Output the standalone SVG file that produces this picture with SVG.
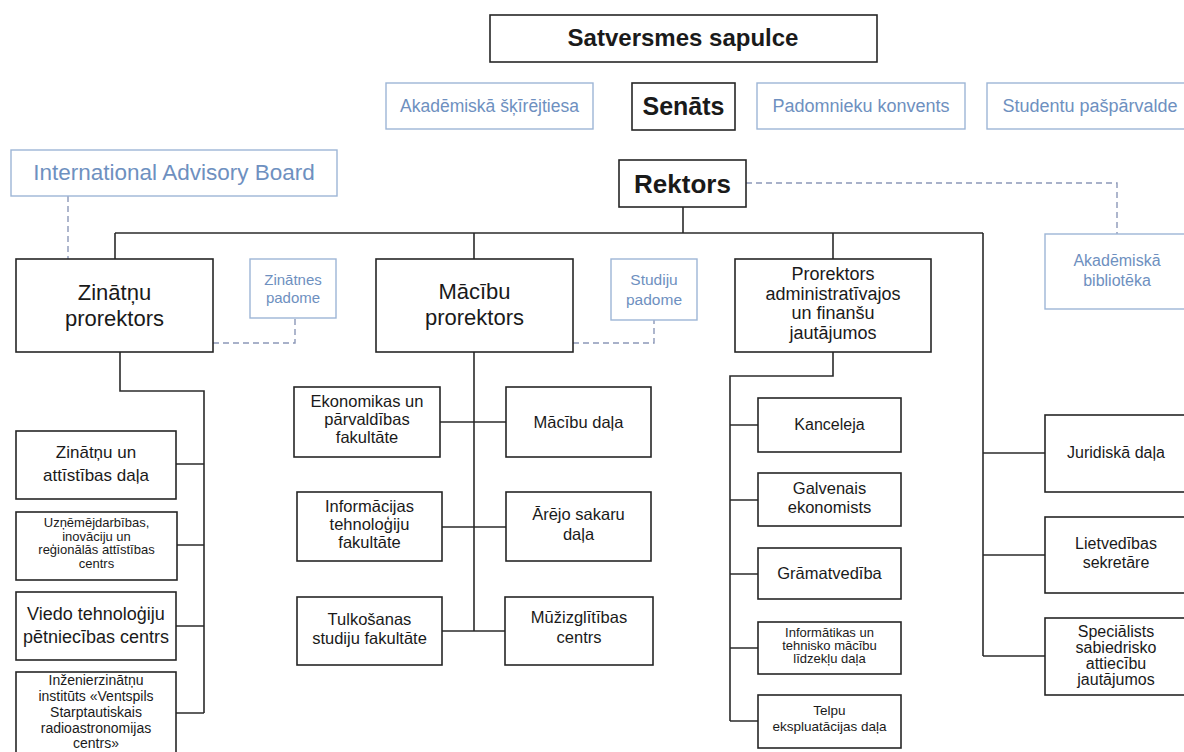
<svg xmlns="http://www.w3.org/2000/svg" width="1184" height="752" viewBox="0 0 1184 752">
<style>
.bx{fill:#fff;stroke:#262626;stroke-width:1.6}
.bb{fill:#fff;stroke:#9db6d6;stroke-width:1.4}
text{font-family:"Liberation Sans",Arial,sans-serif;fill:#1a1a1a;text-anchor:middle}
text.b{fill:#6e90c0}
text.h{font-weight:bold}
.ln{fill:none;stroke:#2b2b2b;stroke-width:1.6}
.ds{fill:none;stroke:#8c98b8;stroke-width:1.4;stroke-dasharray:6 4}
</style>
<rect width="1184" height="752" fill="#fff"/>
<g id="connectors">
<path class="ln" d="M683 207V233M115 233H983M115 233V259M474 233V259M833 233V259M983 233V656"/>
<path class="ln" d="M120 352V391H204V713M176 464H204M177 545H204M176 626H204M176 713H204"/>
<path class="ln" d="M474 352V631M440 422H506M442 527H506M442 631H505"/>
<path class="ln" d="M833 352V376H730V721M730 425H758M730 500H758M730 574H758M730 648H758M730 721H758"/>
<path class="ln" d="M983 453H1045M983 555H1045M983 656H1045"/>
<path class="ds" d="M68 196V259M746 183H1117V234M213 343H295V318M573 343H654V320"/>
</g>
<g id="satversmes"><rect class="bx" x="490" y="15" width="387" height="47"/><text class="h" x="683" y="46" font-size="24">Satversmes sapulce</text></g>
<g id="skirejtiesa"><rect class="bb" x="386" y="83" width="207" height="46"/><text class="b" x="489.5" y="112" font-size="17.5">Akadēmiskā šķīrējtiesa</text></g>
<g id="senats"><rect class="bx" x="632" y="83" width="103" height="47"/><text class="h" x="683.5" y="115" font-size="25">Senāts</text></g>
<g id="padomnieku"><rect class="bb" x="757" y="83" width="208" height="46"/><text class="b" x="861" y="112" font-size="18">Padomnieku konvents</text></g>
<g id="studentu"><rect class="bb" x="987" y="83" width="210" height="46"/><text class="b" x="1090" y="112" font-size="18">Studentu pašpārvalde</text></g>
<g id="iab"><rect class="bb" x="11" y="150" width="326" height="46"/><text class="b" x="174" y="180" font-size="22.5">International Advisory Board</text></g>
<g id="rektors"><rect class="bx" x="619" y="160" width="127" height="47"/><text class="h" x="682.5" y="193" font-size="26">Rektors</text></g>
<g id="biblioteka"><rect class="bb" x="1045" y="234" width="150" height="75"/><text class="b" x="1117" y="266" font-size="16">Akadēmiskā</text><text class="b" x="1117" y="286" font-size="16">bibliotēka</text></g>
<g id="zinatnu-prorektors"><rect class="bx" x="16" y="259" width="197" height="93"/><text x="114.5" y="300" font-size="22">Zinātņu</text><text x="114.5" y="326" font-size="22">prorektors</text></g>
<g id="zinatnes-padome"><rect class="bb" x="250" y="259" width="86" height="59"/><text class="b" x="293" y="285" font-size="15">Zinātnes</text><text class="b" x="293" y="303" font-size="15">padome</text></g>
<g id="macibu-prorektors"><rect class="bx" x="376" y="259" width="197" height="93"/><text x="474.5" y="299" font-size="22">Mācību</text><text x="474.5" y="325" font-size="22">prorektors</text></g>
<g id="studiju-padome"><rect class="bb" x="611" y="259" width="86" height="61"/><text class="b" x="654" y="285" font-size="15.5">Studiju</text><text class="b" x="654" y="305" font-size="15.5">padome</text></g>
<g id="prorektors-adm"><rect class="bx" x="735" y="259" width="196" height="93"/><text x="833" y="280" font-size="18">Prorektors</text><text x="833" y="299.5" font-size="18">administratīvajos</text><text x="833" y="319" font-size="18">un finanšu</text><text x="833" y="338.5" font-size="18">jautājumos</text></g>
<g id="zinatnu-attistibas"><rect class="bx" x="16" y="431" width="160" height="68"/><text x="96" y="458" font-size="17">Zinātņu un</text><text x="96" y="481" font-size="17">attīstības daļa</text></g>
<g id="uznemejdarbibas"><rect class="bx" x="16" y="512" width="161" height="68"/><text x="96.5" y="527" font-size="13">Uzņēmējdarbības,</text><text x="96.5" y="540.5" font-size="13">inovāciju un</text><text x="96.5" y="554" font-size="13">reģionālās attīstības</text><text x="96.5" y="567.5" font-size="13">centrs</text></g>
<g id="viedo"><rect class="bx" x="16" y="592" width="160" height="68"/><text x="96" y="620" font-size="18">Viedo tehnoloģiju</text><text x="96" y="643" font-size="18">pētniecības centrs</text></g>
<g id="virac"><rect class="bx" x="16" y="672" width="160" height="90"/><text x="96" y="685" font-size="14">Inženierzinātņu</text><text x="96" y="701" font-size="14">institūts «Ventspils</text><text x="96" y="717" font-size="14">Starptautiskais</text><text x="96" y="733" font-size="14">radioastronomijas</text><text x="96" y="748" font-size="14">centrs»</text></g>
<g id="ekonomikas"><rect class="bx" x="294" y="387" width="146" height="70"/><text x="367" y="407" font-size="16.5">Ekonomikas un</text><text x="367" y="425" font-size="16.5">pārvaldības</text><text x="367" y="443" font-size="16.5">fakultāte</text></g>
<g id="macibu-dala"><rect class="bx" x="506" y="387" width="145" height="70"/><text x="578.5" y="428" font-size="16.5">Mācību daļa</text></g>
<g id="informacijas"><rect class="bx" x="297" y="492" width="145" height="69"/><text x="369.5" y="512" font-size="16.5">Informācijas</text><text x="369.5" y="530" font-size="16.5">tehnoloģiju</text><text x="369.5" y="548" font-size="16.5">fakultāte</text></g>
<g id="arejo"><rect class="bx" x="506" y="492" width="145" height="69"/><text x="578.5" y="520" font-size="16.5">Ārējo sakaru</text><text x="578.5" y="540" font-size="16.5">daļa</text></g>
<g id="tulkosanas"><rect class="bx" x="297" y="597" width="145" height="68"/><text x="369.5" y="625" font-size="16.5">Tulkošanas</text><text x="369.5" y="644" font-size="16.5">studiju fakultāte</text></g>
<g id="muzizglitibas"><rect class="bx" x="505" y="597" width="148" height="68"/><text x="579" y="623" font-size="16.5">Mūžizglītības</text><text x="579" y="643" font-size="16.5">centrs</text></g>
<g id="kanceleja"><rect class="bx" x="758" y="398" width="143" height="54"/><text x="829.5" y="430" font-size="16">Kanceleja</text></g>
<g id="galvenais"><rect class="bx" x="758" y="473" width="143" height="53"/><text x="829.5" y="494" font-size="16.5">Galvenais</text><text x="829.5" y="513" font-size="16.5">ekonomists</text></g>
<g id="gramatvediba"><rect class="bx" x="758" y="548" width="143" height="51"/><text x="829.5" y="579" font-size="16.5">Grāmatvedība</text></g>
<g id="informatikas"><rect class="bx" x="758" y="622" width="143" height="52"/><text x="829.5" y="637" font-size="13">Informātikas un</text><text x="829.5" y="650" font-size="13">tehnisko mācību</text><text x="829.5" y="663" font-size="13">līdzekļu daļa</text></g>
<g id="telpu"><rect class="bx" x="758" y="695" width="143" height="53"/><text x="829.5" y="715" font-size="13.5">Telpu</text><text x="829.5" y="731" font-size="13.5">ekspluatācijas daļa</text></g>
<g id="juridiska"><rect class="bx" x="1045" y="415" width="150" height="77"/><text x="1116" y="458" font-size="16">Juridiskā daļa</text></g>
<g id="lietvedibas"><rect class="bx" x="1045" y="517" width="150" height="76"/><text x="1116" y="549" font-size="16">Lietvedības</text><text x="1116" y="568" font-size="16">sekretāre</text></g>
<g id="specialists"><rect class="bx" x="1045" y="618" width="150" height="77"/><text x="1116" y="637" font-size="16">Speciālists</text><text x="1116" y="653" font-size="16">sabiedrisko</text><text x="1116" y="669" font-size="16">attiecību</text><text x="1116" y="685" font-size="16">jautājumos</text></g>
</svg>
